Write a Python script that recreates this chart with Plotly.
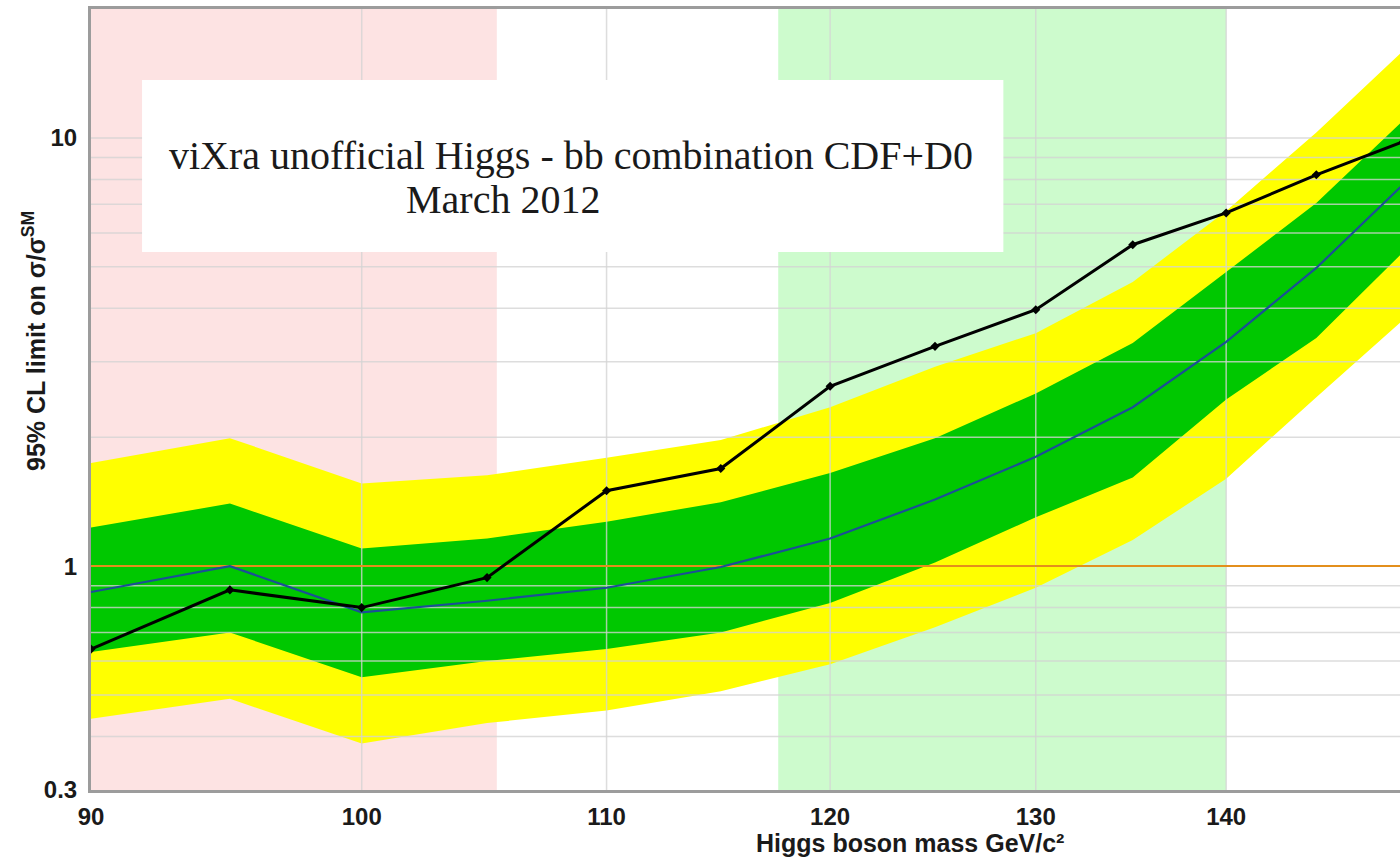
import math
import plotly.graph_objects as go

# Higgs mass points (GeV/c^2)
mass = [90, 95, 100, 105, 110, 115, 120, 125, 130, 135, 140, 145, 150]

# 95% CL limits on sigma / sigma_SM
observed = [0.64, 0.88, 0.80, 0.94, 1.50, 1.69, 2.63, 3.26, 3.97, 5.63, 6.68, 8.2, 9.8]
expected = [0.87, 1.00, 0.78, 0.83, 0.89, 0.995, 1.16, 1.43, 1.80, 2.35, 3.34, 4.97, 7.8]
exp_plus1 = [1.23, 1.40, 1.10, 1.16, 1.27, 1.41, 1.65, 1.99, 2.53, 3.32, 4.86, 7.05, 11.0]
exp_minus1 = [0.63, 0.70, 0.55, 0.60, 0.64, 0.70, 0.82, 1.02, 1.30, 1.61, 2.45, 3.41, 5.42]
exp_plus2 = [1.74, 1.99, 1.56, 1.63, 1.79, 1.97, 2.35, 2.92, 3.50, 4.61, 6.75, 10.3, 16.0]
exp_minus2 = [0.44, 0.49, 0.385, 0.43, 0.46, 0.51, 0.59, 0.72, 0.89, 1.15, 1.60, 2.48, 3.76]

# Shaded mass windows
pink_window = [90, 105.4]
green_window = [117.6, 140]

# Axes
x_range = [90, 149.8]
y_range = [0.3, 20]
x_ticks = [90, 100, 110, 120, 130, 140]
y_ticks = [0.3, 1, 10]
y_tick_text = ["0.3", "1", "10"]
x_grid = [100, 110, 120, 130, 140]
y_grid = [0.4, 0.5, 0.6, 0.7, 0.8, 0.9, 1, 2, 3, 4, 5, 6, 7, 8, 9, 10]
sm_level = 1

fig = go.Figure()


def window(xs, color):
    fig.add_trace(go.Scatter(
        x=[xs[0], xs[0], xs[1], xs[1]],
        y=[y_range[0], y_range[1], y_range[1], y_range[0]],
        fill="toself", fillcolor=color, mode="none",
        hoverinfo="skip", showlegend=False))


window(pink_window, "#fde3e3")
window(green_window, "#cdfbcd")


def band(lo, hi, color):
    fig.add_trace(go.Scatter(
        x=mass + mass[::-1], y=hi + lo[::-1],
        fill="toself", fillcolor=color, mode="none",
        hoverinfo="skip", showlegend=False))


band(exp_minus2, exp_plus2, "#ffff00")
band(exp_minus1, exp_plus1, "#00c800")

# grid lines drawn over the bands
grid_color = "rgba(212,212,212,0.78)"
for gx in x_grid:
    fig.add_trace(go.Scatter(x=[gx, gx], y=y_range, mode="lines",
                             line=dict(color=grid_color, width=1.5),
                             hoverinfo="skip", showlegend=False))
for gy in y_grid:
    fig.add_trace(go.Scatter(x=x_range, y=[gy, gy], mode="lines",
                             line=dict(color=grid_color, width=1.5),
                             hoverinfo="skip", showlegend=False))

# SM reference line
fig.add_trace(go.Scatter(x=x_range, y=[sm_level, sm_level], mode="lines",
                         line=dict(color="#e38f1c", width=2),
                         hoverinfo="skip", showlegend=False))

# expected median
fig.add_trace(go.Scatter(x=mass, y=expected, mode="lines",
                         line=dict(color="#1b4f96", width=2.2),
                         showlegend=False))

# observed limit
fig.add_trace(go.Scatter(x=mass, y=observed, mode="lines+markers",
                         line=dict(color="#000000", width=3),
                         marker=dict(symbol="diamond", size=7, color="#000000"),
                         showlegend=False))

# title box
fig.add_shape(type="rect", xref="paper", yref="paper",
              x0=0.039, x1=0.697, y0=0.689, y1=0.909,
              fillcolor="white", line=dict(width=0), layer="above")
serif = dict(family="Liberation Serif", size=40, color="#1a1a1a")
fig.add_annotation(xref="paper", yref="paper", x=0.367, y=0.812,
                   text="viXra unofficial Higgs - bb combination CDF+D0",
                   showarrow=False, xanchor="center", yanchor="middle", font=serif)
fig.add_annotation(xref="paper", yref="paper", x=0.315, y=0.756,
                   text="March 2012",
                   showarrow=False, xanchor="center", yanchor="middle", font=serif)

# axis titles
fig.add_annotation(xref="paper", yref="paper", x=0.626, y=-0.068,
                   text="<b>Higgs boson mass GeV/c²</b>", showarrow=False,
                   xanchor="center", yanchor="middle",
                   font=dict(family="Liberation Sans", size=25, color="#1a1a1a"))
fig.add_annotation(xref="paper", yref="paper", x=-0.0435, y=0.575,
                   text="<b>95% CL limit on σ/σ<sup>SM</sup></b>", showarrow=False,
                   textangle=-90, xanchor="center", yanchor="middle",
                   font=dict(family="Liberation Sans", size=25, color="#1a1a1a"))

tick_font = dict(family="Liberation Sans", size=24, color="#1a1a1a", weight="bold")

fig.update_layout(
    width=1400, height=857,
    margin=dict(l=91, r=0, t=9, b=67),
    paper_bgcolor="white", plot_bgcolor="white",
    xaxis=dict(type="log", range=[math.log10(x_range[0]), math.log10(x_range[1])],
               tickvals=x_ticks, ticktext=[str(v) for v in x_ticks],
               showgrid=False, zeroline=False, showline=True, mirror=True,
               linecolor="#9c9c9c", linewidth=3, ticks="", tickfont=tick_font,
               ticklabelstandoff=3),
    yaxis=dict(type="log", range=[math.log10(y_range[0]), math.log10(y_range[1])],
               tickvals=y_ticks, ticktext=y_tick_text,
               showgrid=False, zeroline=False, showline=True,
               linecolor="#9c9c9c", linewidth=3, ticks="", tickfont=tick_font,
               ticklabelstandoff=6),
)

fig.write_html("out.html")
